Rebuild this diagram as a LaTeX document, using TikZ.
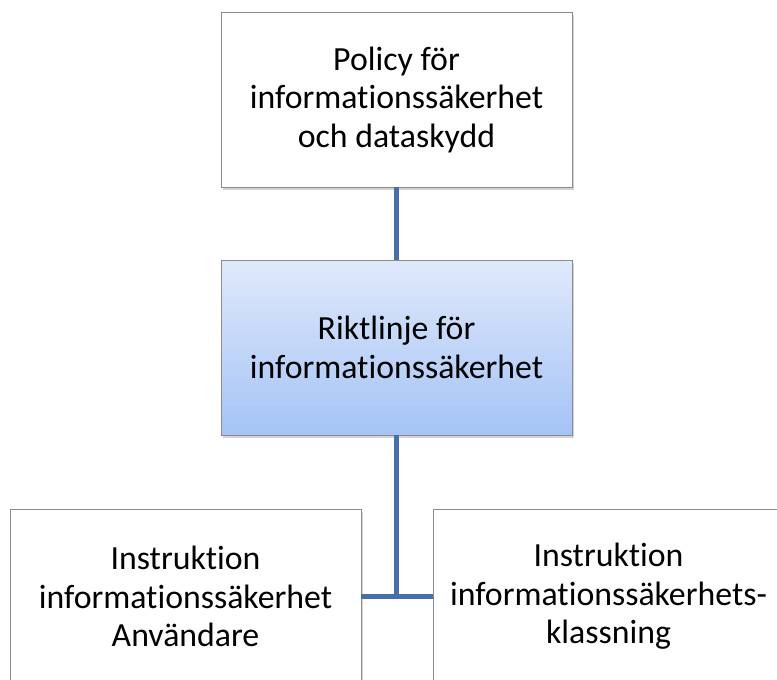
\documentclass[tikz,border=0pt]{standalone}
\usepackage{fontspec}
\setmainfont[Ligatures=NoCommon]{Carlito}
\usetikzlibrary{shadows}
\definecolor{linkblue}{HTML}{4770A8}
\definecolor{boxborder}{HTML}{8C8C8C}
\definecolor{gradtop}{HTML}{DFE9FB}
\definecolor{gradbot}{HTML}{A5C3F6}
\tikzset{
  orgbox/.style={draw=boxborder, line width=0.8pt, fill=white, minimum width=351pt, minimum height=175pt,
    align=center, font=\fontsize{33.8}{38.5}\selectfont, inner sep=0pt, text=black,
    drop shadow={shadow xshift=2pt, shadow yshift=-3pt, opacity=0.35, fill=gray}},
  hlbox/.style={orgbox, top color=gradtop, bottom color=gradbot},
  link/.style={draw=linkblue, line width=5pt}
}
\begin{document}
\begin{tikzpicture}[x=1pt,y=-1pt]
\useasboundingbox (0,0) rectangle (777,680);
\node[orgbox] (top) at (396.5,99.5) {Policy för\\informationssäkerhet\\och dataskydd};
\node[hlbox] (mid) at (396.5,347.5) {Riktlinje för\\informationssäkerhet};
\node[orgbox] (bl) at (185.5,596.5) {Instruktion\\informationssäkerhet\\Användare};
\node[orgbox] (br) at (608.5,596.5) {Instruktion\\informationssäkerhets-\\klassning};
\coordinate (j) at (mid.south |- bl.east);
\draw[link] (top.south) -- (mid.north);
\draw[link] (mid.south) -- (j);
\draw[link] (bl.east) -- (br.west);
\end{tikzpicture}
\end{document}
